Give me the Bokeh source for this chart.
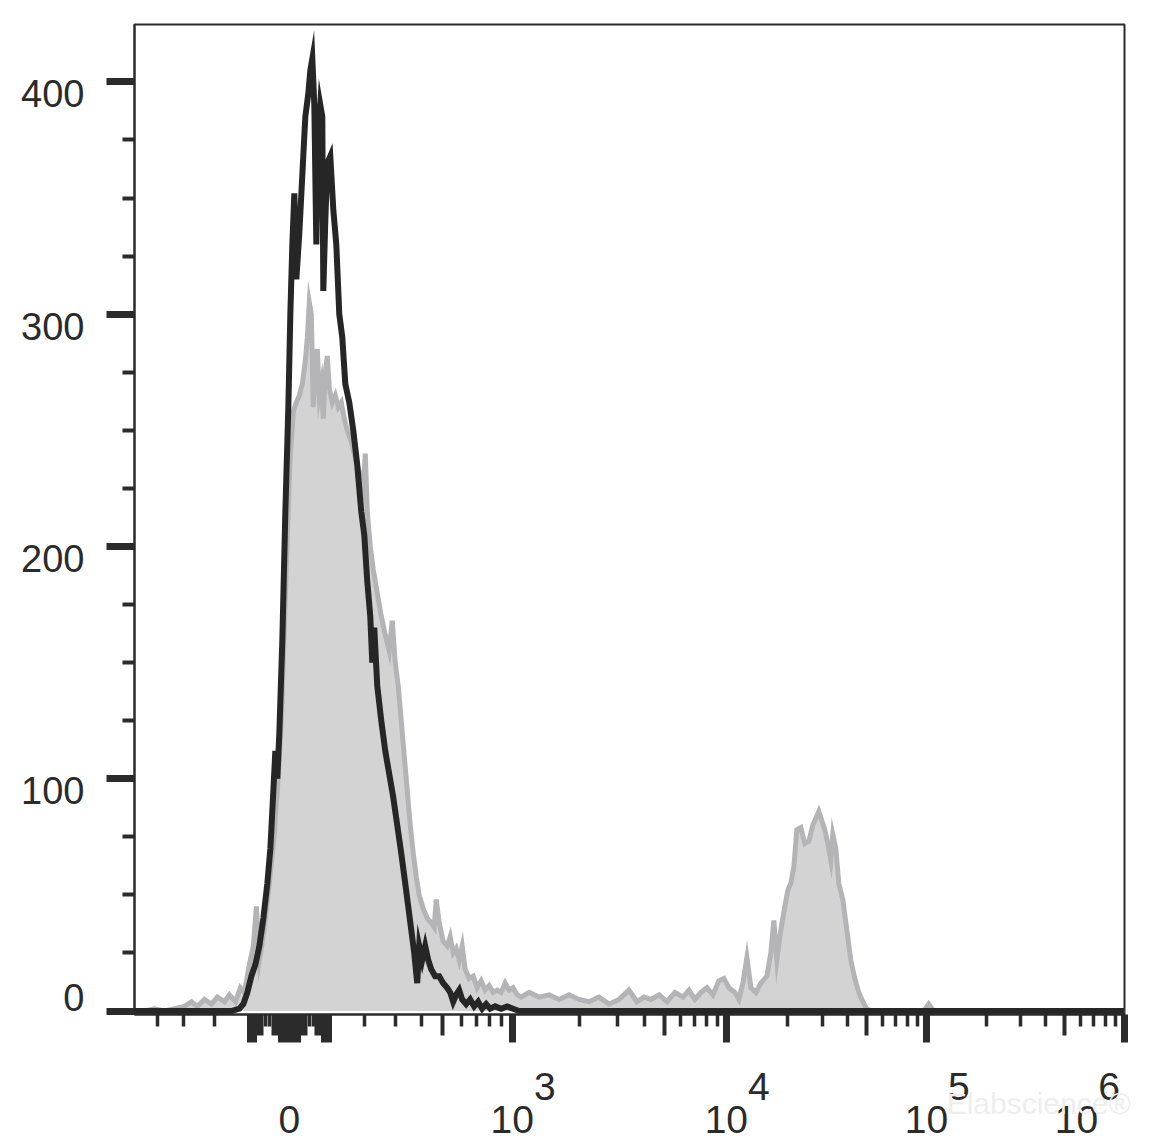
import numpy as np
from bokeh.plotting import figure
from bokeh.models import LinearAxis, FixedTicker, Range1d, ColumnDataSource
from bokeh.embed import file_html
from bokeh.resources import INLINE

# ---------------- data (x in display channels: 198 channels per decade, zero at channel 155) ----------------
grey_ch = [0, 10, 20, 30, 40, 50, 57, 63, 70, 77, 83, 90, 95, 101, 106, 110, 115, 119, 122, 125, 128, 131,
           135, 139, 143, 147, 150, 153, 156, 159, 162, 165, 168, 171, 173, 175, 177, 179, 181, 183, 185, 187,
           189, 191, 193, 195, 198, 201, 204, 207, 210, 213, 217, 221, 225, 229, 231, 233, 236, 239, 243, 247,
           251, 255, 258, 261, 264, 267, 270, 273, 276, 279, 282, 285, 289, 293, 297, 300, 302, 305, 309, 313,
           316, 319, 322, 325, 328, 331, 335, 339, 343, 347, 351, 355, 359, 363, 367, 371, 375, 379, 383, 387,
           395, 405, 415, 425, 435, 445, 455, 465, 475, 485, 495, 503, 510, 517, 525, 533, 541, 549, 555, 561,
           567, 573, 579, 585, 590, 595, 601, 605, 609, 613, 617, 622, 627, 633, 637, 640, 643, 647, 651, 654,
           657, 660, 663, 667, 671, 675, 679, 683, 685, 688, 691, 694, 697, 699, 702, 705, 709, 713, 717, 721,
           725, 729, 733, 737, 765, 790, 795, 800, 991]
grey_count = [0, 0, 1, 0, 1, 2, 4, 2, 5, 3, 6, 4, 7, 4, 10, 8, 20, 28, 45, 22, 30, 40,
              55, 72, 95, 125, 165, 205, 240, 258, 262, 265, 270, 280, 290, 305, 300, 260, 275, 285, 265, 270,
              255, 275, 282, 268, 262, 265, 260, 262, 255, 250, 245, 238, 232, 225, 240, 215, 200, 190, 180, 170,
              162, 155, 168, 150, 140, 125, 110, 95, 80, 68, 58, 50, 44, 40, 38, 36, 48, 38, 30, 28,
              32, 25, 27, 22, 28, 18, 14, 15, 10, 13, 9, 11, 8, 9, 8, 12, 9, 10, 7, 6,
              8, 6, 7, 5, 7, 5, 4, 6, 3, 5, 9, 4, 6, 5, 7, 4, 8, 6, 9, 5,
              8, 10, 7, 13, 14, 10, 8, 5, 12, 23, 10, 8, 12, 15, 25, 39, 22, 35, 45, 52,
              55, 62, 78, 79, 72, 73, 80, 84, 86, 82, 78, 72, 65, 76, 70, 55, 48, 35, 22, 14,
              8, 4, 1, 0, 0, 0, 3, 0, 0]

black_ch = [0, 65, 97, 105, 109, 113, 117, 121, 125, 129, 133, 136, 139, 141, 143, 145, 148, 151, 154, 156,
            158, 160, 162, 165, 168, 171, 174, 176, 178, 180, 182, 184, 186, 188, 189, 191, 193, 196, 199, 202,
            205, 208, 211, 215, 219, 223, 227, 230, 233, 236, 238, 240, 243, 247, 251, 255, 259, 263, 267, 271,
            274, 277, 280, 283, 285, 288, 291, 294, 297, 301, 305, 309, 313, 316, 319, 322, 325, 328, 332, 336,
            340, 344, 348, 352, 356, 361, 367, 373, 379, 385, 465, 665, 991]
black_count = [0, 0, 0, 1, 3, 8, 15, 20, 28, 40, 55, 70, 95, 112, 100, 120, 160, 215, 260, 300,
               330, 352, 315, 335, 360, 385, 395, 405, 410, 390, 330, 375, 390, 385, 310, 340, 365, 368, 345, 330,
               300, 290, 270, 262, 250, 235, 215, 205, 185, 170, 150, 165, 140, 125, 112, 102, 92, 80, 68, 55,
               45, 35, 25, 12, 28, 22, 28, 22, 18, 15, 15, 12, 10, 8, 4, 7, 9, 5, 3, 5,
               2, 4, 1, 3, 1, 2, 1, 2, 1, 0, 0, 0, 0]

# y axis ticks
y_major = [0, 100, 200, 300, 400]
y_labels = ["0", "100", "200", "300", "400"]
y_minor = [25, 50, 75, 125, 150, 175, 225, 250, 275, 325, 350, 375]

# x axis ticks (fluorescence values)
x_major_vals = [0, 1e3, 1e4, 1e5, 1e6]
x_major_text = ["0", "10", "10", "10", "10"]
x_super_text = ["", "3", "4", "5", "6"]
x_mid_vals = [500, 5e3, 5e4, 5e5]
x_minor_vals = [-400, -300, -200] + [m * d for d in (100, 1e3, 1e4, 1e5) for m in (2, 3, 4, 6, 7, 8, 9)]
dense_tall = [-100, -90, -20, -10, 10, 20, 90, 100]
dense_mid = [-80, -70, -40, -30, 30, 40, 70, 80]
dense_minor = [-60, -50, 50, 60]

watermark = "Elabscience®"

# ---------------- biexponential (logicle-type) display transform ----------------
T_TOP = 1e6
W_LIN = 0.6
U_TOP = 4.222          # decades from zero to top of scale
ZERO_CH = 155.0
CH_PER_DEC = 198.0


def _solve_p(w):
    lo, hi = 1.0001, 50.0
    for _ in range(200):
        mid = 0.5 * (lo + hi)
        if 2 * mid * np.log10(mid) / (mid + 1) < w:
            lo = mid
        else:
            hi = mid
    return 0.5 * (lo + hi)


P = _solve_p(W_LIN)


def _S(u):
    a = np.abs(u)
    return np.sign(u) * (10 ** a - P ** 2 * 10 ** (-a / P) + P ** 2 - 1)


PREF = T_TOP / _S(U_TOP)
_grid = np.linspace(0, 6, 120001)
_vals = PREF * _S(_grid)


def to_ch(v):
    v = float(v)
    u = np.sign(v) * np.interp(abs(v), _vals, _grid)
    return round(ZERO_CH + CH_PER_DEC * float(u), 3)


INK = "#2b2b2b"
FONT = "Liberation Sans"
FS = "\u2007"   # figure space (digit-wide)
LAST_LABEL_PULL = 48   # the 10^6 label is pulled left so it stays inside the picture

p = figure(frame_width=990, frame_height=990, output_backend="svg", toolbar_location=None,
           x_axis_type=None, y_axis_type=None,
           x_range=Range1d(0, 991), y_range=Range1d(-1.5, 424.7),
           min_border_left=134, min_border_right=24, min_border_top=24, min_border_bottom=0)
p.outline_line_color = INK
p.outline_line_width = 2
p.background_fill_color = "white"
p.border_fill_color = "white"

grey_src = ColumnDataSource(dict(x=grey_ch, y=grey_count))
black_src = ColumnDataSource(dict(x=black_ch, y=black_count))

p.varea(x="x", y1=0, y2="y", source=grey_src, fill_color="#d3d3d3")
p.line(x="x", y="y", source=grey_src, line_color="#b4b4b6", line_width=5, line_join="miter")
p.line(x="x", y="y", source=black_src, line_color="#262626", line_width=6, line_join="miter")

# ---- y axis (labels sit a little below their ticks, the 0 a little above) ----
yax = LinearAxis(ticker=FixedTicker(ticks=y_major, minor_ticks=y_minor))
ylab = {}
for v, t in zip(y_major, y_labels):
    ylab[v] = (t + "\n" + FS) if v == 0 else (FS + "\n" + t)
yax.major_label_overrides = ylab
yax.major_label_text_line_height = 0.6
yax.axis_line_color = INK
yax.axis_line_width = 2
yax.major_tick_in = 0
yax.major_tick_out = 28
yax.major_tick_line_width = 7
yax.major_tick_line_color = INK
yax.minor_tick_in = 0
yax.minor_tick_out = 12
yax.minor_tick_line_width = 4
yax.minor_tick_line_color = INK
yax.major_label_standoff = 22
yax.major_label_text_font = FONT
yax.major_label_text_font_size = "38px"
yax.major_label_text_color = INK
p.add_layout(yax, "left")

# ---- x axis 1: medium and minor ticks ----
mid_ch = [to_ch(v) for v in x_mid_vals + dense_mid]
minor_ch = [to_ch(v) for v in x_minor_vals + dense_minor]
xa = LinearAxis(ticker=FixedTicker(ticks=mid_ch, minor_ticks=minor_ch))
xa.axis_line_color = INK
xa.axis_line_width = 2
xa.major_tick_in = 0
xa.major_tick_out = 21
xa.major_tick_line_width = 4
xa.major_tick_line_color = INK
xa.minor_tick_in = 0
xa.minor_tick_out = 12
xa.minor_tick_line_width = 3.5
xa.minor_tick_line_color = INK
xa.major_label_standoff = 0
xa.major_label_text_font_size = "0px"
xa.major_label_text_alpha = 0
p.add_layout(xa, "below")

# ---- x axis 2: tall ticks (reaching up to the frame) ----
tall_ch = [to_ch(v) for v in x_major_vals + dense_tall]
xb = LinearAxis(ticker=FixedTicker(ticks=tall_ch, minor_ticks=[]))
xb.axis_line_color = None
xb.major_tick_in = 21
xb.major_tick_out = 7
xb.major_tick_line_width = 7
xb.major_tick_line_color = INK
xb.minor_tick_in = 0
xb.minor_tick_out = 0
xb.major_label_standoff = 0
xb.major_label_text_font_size = "0px"
xb.major_label_text_alpha = 0
p.add_layout(xb, "below")

# ---- x axis 3: tick-less, carries the "10^n" labels ----
lab_ch = []
lab_txt = {}
n_lab = len(x_major_vals)
for i, (v, base, sup) in enumerate(zip(x_major_vals, x_major_text, x_super_text)):
    c = to_ch(v)
    if i == n_lab - 1:
        c = round(c - LAST_LABEL_PULL, 3)
    txt = (FS + "\n" + base) if not sup else (FS * 3 + sup + "\n" + FS + base + FS)
    lab_ch.append(c)
    lab_txt[c] = txt
xc = LinearAxis(ticker=FixedTicker(ticks=lab_ch, minor_ticks=[]))
xc.major_label_overrides = lab_txt
xc.major_label_text_line_height = 0.78
xc.axis_line_color = None
xc.major_tick_line_color = None
xc.major_tick_in = 0
xc.major_tick_out = 0
xc.minor_tick_in = 0
xc.minor_tick_out = 0
xc.major_label_standoff = 22
xc.major_label_text_font = FONT
xc.major_label_text_font_size = "39px"
xc.major_label_text_color = INK
p.add_layout(xc, "below")

# ---- faint watermark carried by another tick-less axis ----
wm_ch = 905.0
xd = LinearAxis(ticker=FixedTicker(ticks=[wm_ch], minor_ticks=[]))
xd.major_label_overrides = {wm_ch: watermark}
xd.axis_line_color = None
xd.major_tick_line_color = None
xd.major_tick_in = 0
xd.major_tick_out = 0
xd.minor_tick_in = 0
xd.minor_tick_out = 0
xd.major_label_standoff = -58
xd.major_label_text_font = FONT
xd.major_label_text_font_size = "30px"
xd.major_label_text_color = "#eeeeee"
p.add_layout(xd, "below")

open("out.html", "w").write(file_html(p, INLINE))
